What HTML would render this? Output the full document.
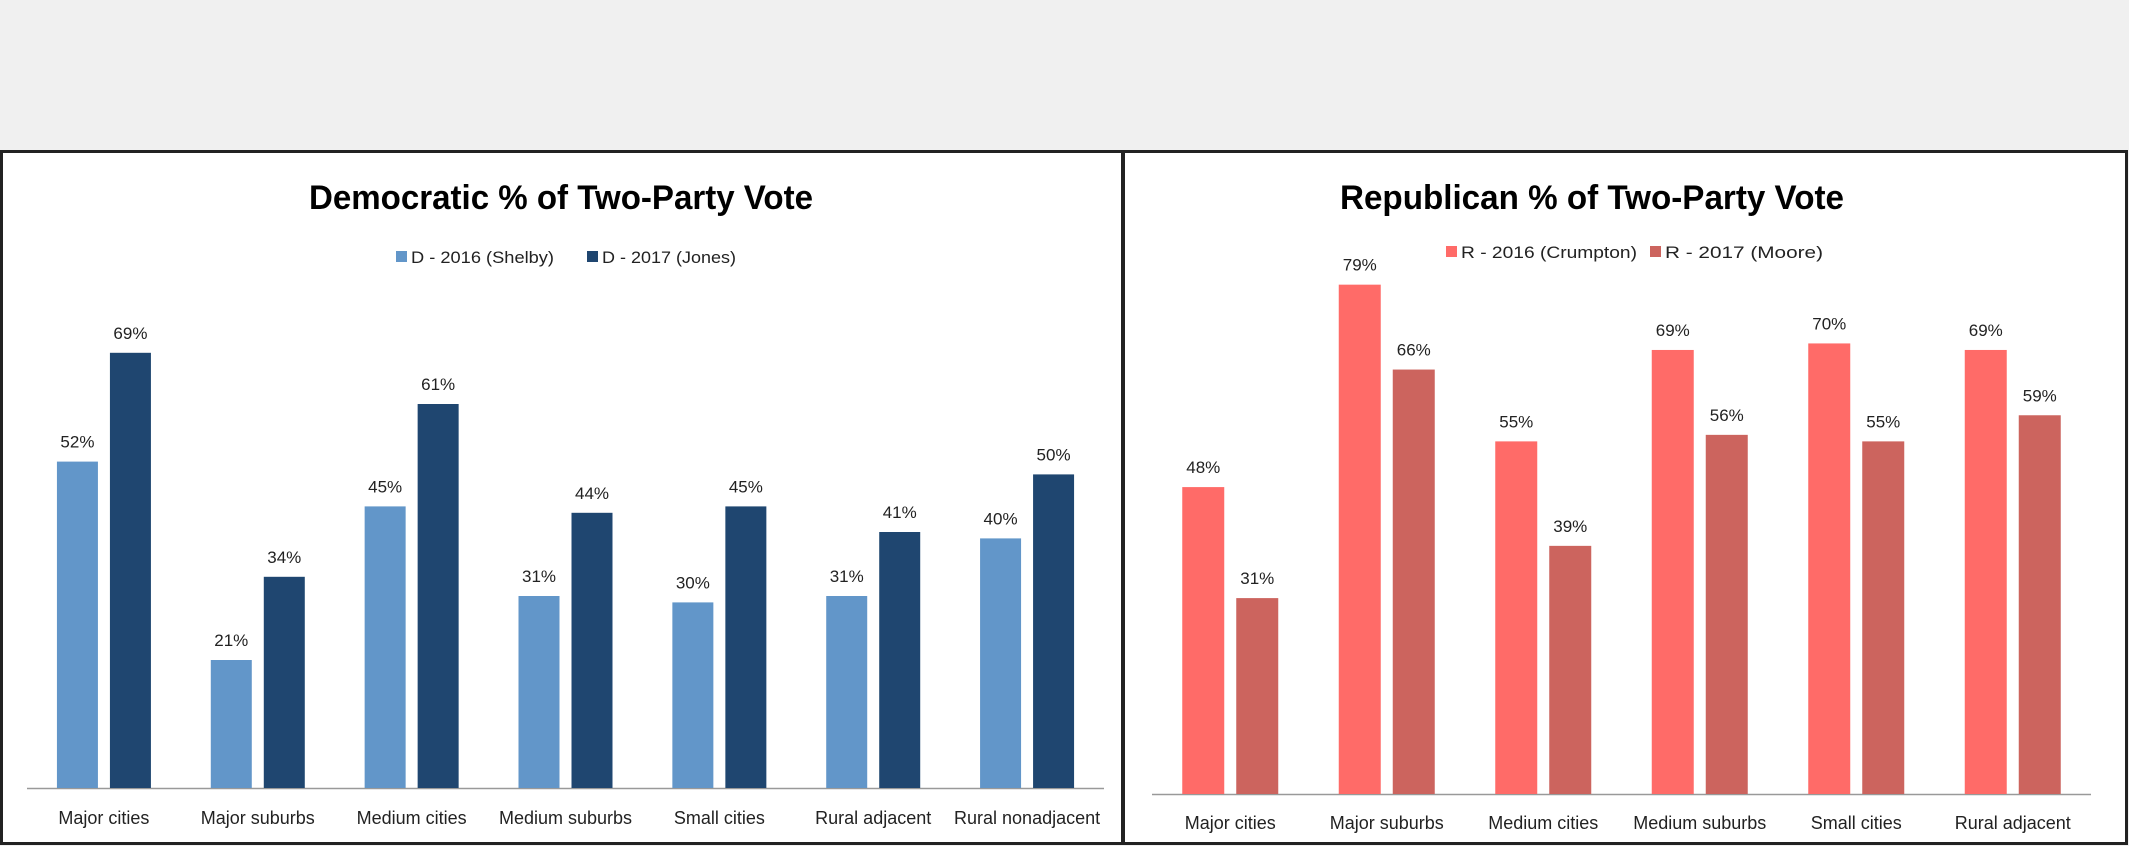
<!DOCTYPE html>
<html><head><meta charset="utf-8"><style>
html,body{margin:0;padding:0;background:#f0f0f0;}
svg{display:block;font-family:"Liberation Sans",sans-serif;}
</style></head><body>
<svg id="svg" width="2129" height="846" viewBox="0 0 2129 846">
<rect x="0" y="0" width="2129" height="150" fill="#f0f0f0"/>
<rect x="1.5" y="151.5" width="1121" height="692" fill="#fff" stroke="#222" stroke-width="3"/>
<rect x="1123.5" y="151.5" width="1003" height="692" fill="#fff" stroke="#222" stroke-width="3"/>
<g id="dem"></g>
<g id="rep"></g>
</svg>
<script>
const demCategories=["Major cities","Major suburbs","Medium cities","Medium suburbs","Small cities","Rural adjacent","Rural nonadjacent"];
const dem2016=[52,21,45,31,30,31,40];
const dem2017=[69,34,61,44,45,41,50];
const repCategories=["Major cities","Major suburbs","Medium cities","Medium suburbs","Small cities","Rural adjacent"];
const rep2016=[48,79,55,69,70,69];
const rep2017=[31,66,39,56,55,59];
const NS="http://www.w3.org/2000/svg";
function mk(parent,tag,attrs,text){const e=document.createElementNS(NS,tag);for(const k in attrs)e.setAttribute(k,attrs[k]);if(text!==undefined)e.textContent=text;parent.appendChild(e);return e;}
function draw(g,cfg){
  const x0=cfg.left,x1=cfg.right,base=cfg.base,n=cfg.cats.length,bw=(x1-x0)/n;
  const y=v=>base-cfg.scale*(v-1);
  const t=mk(g,'text',{x:cfg.titleX,y:cfg.titleY,'text-anchor':'middle','font-size':34,'font-weight':'bold',fill:'#000',textLength:cfg.titleLen,lengthAdjust:'spacingAndGlyphs'},cfg.title);
  
  
  cfg.legend.forEach((L,i)=>{
    const lg=mk(g,'g',{});
    
    
    mk(lg,'rect',{x:L.x,y:cfg.legY-12,width:11,height:11,fill:cfg.colors[i]});
    mk(lg,'text',{x:L.x+15,y:cfg.legY,'font-size':17,fill:'#222',textLength:L.len,lengthAdjust:'spacingAndGlyphs'},L.t);
  });
  const ax=mk(g,'line',{x1:x0,x2:x1,y1:base+0.5,y2:base+0.5,stroke:'#999','stroke-width':1.5});
  
  
  const series=[cfg.s1,cfg.s2];
  cfg.cats.forEach((c,i)=>{
    const cx=x0+bw*(i+0.5);
    series.forEach((s,j)=>{
      const bx=cx+(j===0?-cfg.gap/2-cfg.barW:cfg.gap/2);
      const r=mk(g,'rect',{x:bx,y:y(s[i]),width:cfg.barW,height:base-y(s[i]),fill:cfg.colors[j]});
      
      
      const l=mk(g,'text',{x:bx+cfg.barW/2,y:y(s[i])-14,'text-anchor':'middle','font-size':17,fill:'#222'},s[i]+'%');
      
      
    });
    const tl=mk(g,'text',{x:cx,y:cfg.labY,'text-anchor':'middle','font-size':18,fill:'#222'},c);
    
    
  });
}
draw(document.getElementById('dem'),{cats:demCategories,s1:dem2016,s2:dem2017,left:27,right:1104,base:788,scale:6.40,barW:41,gap:12,
  colors:['#6296c9','#1f4670'],title:'Democratic % of Two-Party Vote',titleX:561,titleY:209,titleLen:504,
  legY:263,legend:[{x:396,t:'D - 2016 (Shelby)',len:143},{x:587,t:'D - 2017 (Jones)',len:134}],labY:824});
draw(document.getElementById('rep'),{cats:repCategories,s1:rep2016,s2:rep2017,left:1152,right:2091,base:794,scale:6.53,barW:42,gap:12,
  colors:['#ff6b68','#cc645e'],title:'Republican % of Two-Party Vote',titleX:1592,titleY:209,titleLen:504,
  legY:258,legend:[{x:1446,t:'R - 2016 (Crumpton)',len:176},{x:1650,t:'R - 2017 (Moore)',len:158}],labY:829});
</script>
</body></html>
